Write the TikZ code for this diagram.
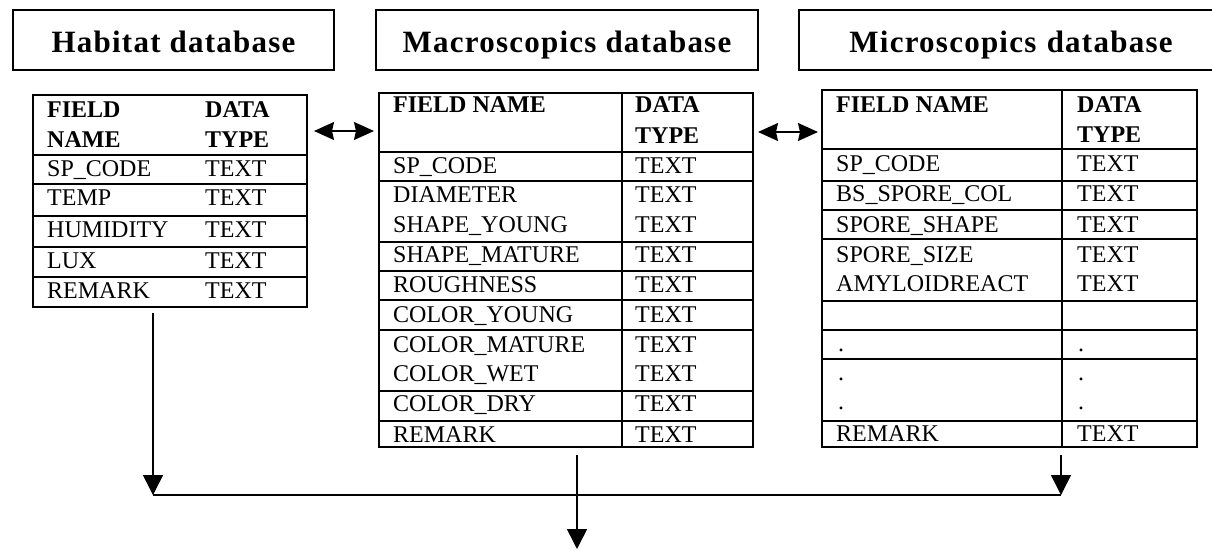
\documentclass[tikz,border=0pt]{standalone}
\usepackage{fontspec}
\setmainfont{Liberation Serif}
\usetikzlibrary{arrows.meta}
\newcommand\ttlfnt{\fontsize{31}{33}\selectfont\bfseries\addfontfeature{LetterSpace=4}}
\newcommand\cellfnt{\fontsize{24}{29}\selectfont}
\begin{document}
\begin{tikzpicture}[x=1pt,y=-1pt,
  frame/.style={draw, line width=2pt, inner sep=0pt, outer sep=0pt, anchor=north west},
  titlebox/.style={frame, font=\ttlfnt, text height=24pt, text depth=0pt, align=center},
  grid/.style={line width=2pt},
  cell/.style={anchor=base west, inner sep=0pt, font=\cellfnt},
  hcell/.style={anchor=base west, inner sep=0pt, font=\cellfnt\bfseries},
  link/.style={line width=1.5pt, -{Triangle[width=20pt,length=20pt]}},
  bus/.style={line width=1.5pt},
  dbl/.style={line width=1.5pt, {Stealth[width=18pt,length=20pt,inset=2pt]}-{Stealth[width=18pt,length=20pt,inset=2pt]}}
]
\useasboundingbox (0,0) rectangle (1212,550);
\clip (0,0) rectangle (1212,550);
\fill[white] (0,0) rectangle (1212,550);

% title boxes
\node[titlebox, minimum width=321pt, minimum height=60pt] (habT) at (13,10) {Habitat database};
\node[titlebox, minimum width=382pt, minimum height=60pt] (macT) at (376,10) {Macroscopics database};
\node[titlebox, minimum width=424pt, minimum height=60pt, text width=422pt] (micT) at (799,10) {Microscopics database};

% table frames
\node[frame, minimum width=274pt, minimum height=212pt] (hab) at (33,95) {};
\node[frame, minimum width=374pt, minimum height=354pt] (mac) at (379,93) {};
\node[frame, minimum width=375pt, minimum height=357pt] (mic) at (822,90) {};

% habitat grid
\foreach \y in {155,184,216,247,277}
  \draw[grid] (hab.west |- 0,\y) -- (hab.east |- 0,\y);
% macroscopics grid
\foreach \y in {152,181,242,271,300,330,391,421}
  \draw[grid] (mac.west |- 0,\y) -- (mac.east |- 0,\y);
\draw[grid] (mac.north -| 622,0) -- (mac.south -| 622,0);
% microscopics grid
\foreach \y in {149,181,210,239,301,330,359,421}
  \draw[grid] (mic.west |- 0,\y) -- (mic.east |- 0,\y);
\draw[grid] (mic.north -| 1062,0) -- (mic.south -| 1062,0);

% habitat texts
\node[hcell] (hh1) at (47,117) {FIELD};
\node[hcell] (hh2) at (47,147) {NAME};
\node[hcell] (hh3) at (205,117) {DATA};
\node[hcell] (hh4) at (205,147) {TYPE};
\foreach \t/\yy [count=\i] in {SP\_CODE/176,TEMP/205,HUMIDITY/237,LUX/268,REMARK/298}{
  \node[cell] (hf\i) at (47,\yy) {\t};
  \node[cell] (ht\i) at (205,\yy) {TEXT};
}

% macroscopics texts
\node[hcell] (mh1) at (393,112) {FIELD NAME};
\node[hcell] (mh2) at (635,112) {DATA};
\node[hcell] (mh3) at (635,143) {TYPE};
\foreach \t/\yy [count=\i] in {SP\_CODE/173,DIAMETER/202,SHAPE\_YOUNG/232,SHAPE\_MATURE/262,ROUGHNESS/292,COLOR\_YOUNG/322,COLOR\_MATURE/352,COLOR\_WET/381,COLOR\_DRY/411,REMARK/442}{
  \node[cell] (mf\i) at (393,\yy) {\t};
  \node[cell] (mt\i) at (635,\yy) {TEXT};
}

% microscopics texts
\node[hcell] (ih1) at (836,112) {FIELD NAME};
\node[hcell] (ih2) at (1077,112) {DATA};
\node[hcell] (ih3) at (1077,142) {TYPE};
\foreach \t/\yy [count=\i] in {SP\_CODE/171,BS\_SPORE\_COL/201,SPORE\_SHAPE/232,SPORE\_SIZE/262,AMYLOIDREACT/291}{
  \node[cell] (if\i) at (836,\yy) {\t};
  \node[cell] (it\i) at (1077,\yy) {TEXT};
}
\foreach \yy [count=\i] in {351,380,409}{
  \node[cell] (idf\i) at (838,\yy) {.};
  \node[cell] (idt\i) at (1078,\yy) {.};
}
\node[cell] (if6) at (836,441) {REMARK};
\node[cell] (it6) at (1077,441) {TEXT};

% connectors
\draw[dbl, shorten <=7pt, shorten >=5pt] (hab.east |- 0,131) -- (mac.west |- 0,131);
\draw[dbl, shorten <=5pt, shorten >=4pt] (mac.east |- 0,132) -- (mic.west |- 0,132);

\coordinate (jl) at (153,495);
\coordinate (jr) at (1061,495);
\coordinate (out) at (577,549);
\draw[link, shorten <=6pt] (hab.south -| jl) -- (jl);
\draw[link, shorten <=8pt] (mic.south -| jr) -- (jr);
\draw[bus] (jl) -- (jr);
\draw[link, shorten <=8pt] (mac.south -| out) -- (out);
\end{tikzpicture}
\end{document}
